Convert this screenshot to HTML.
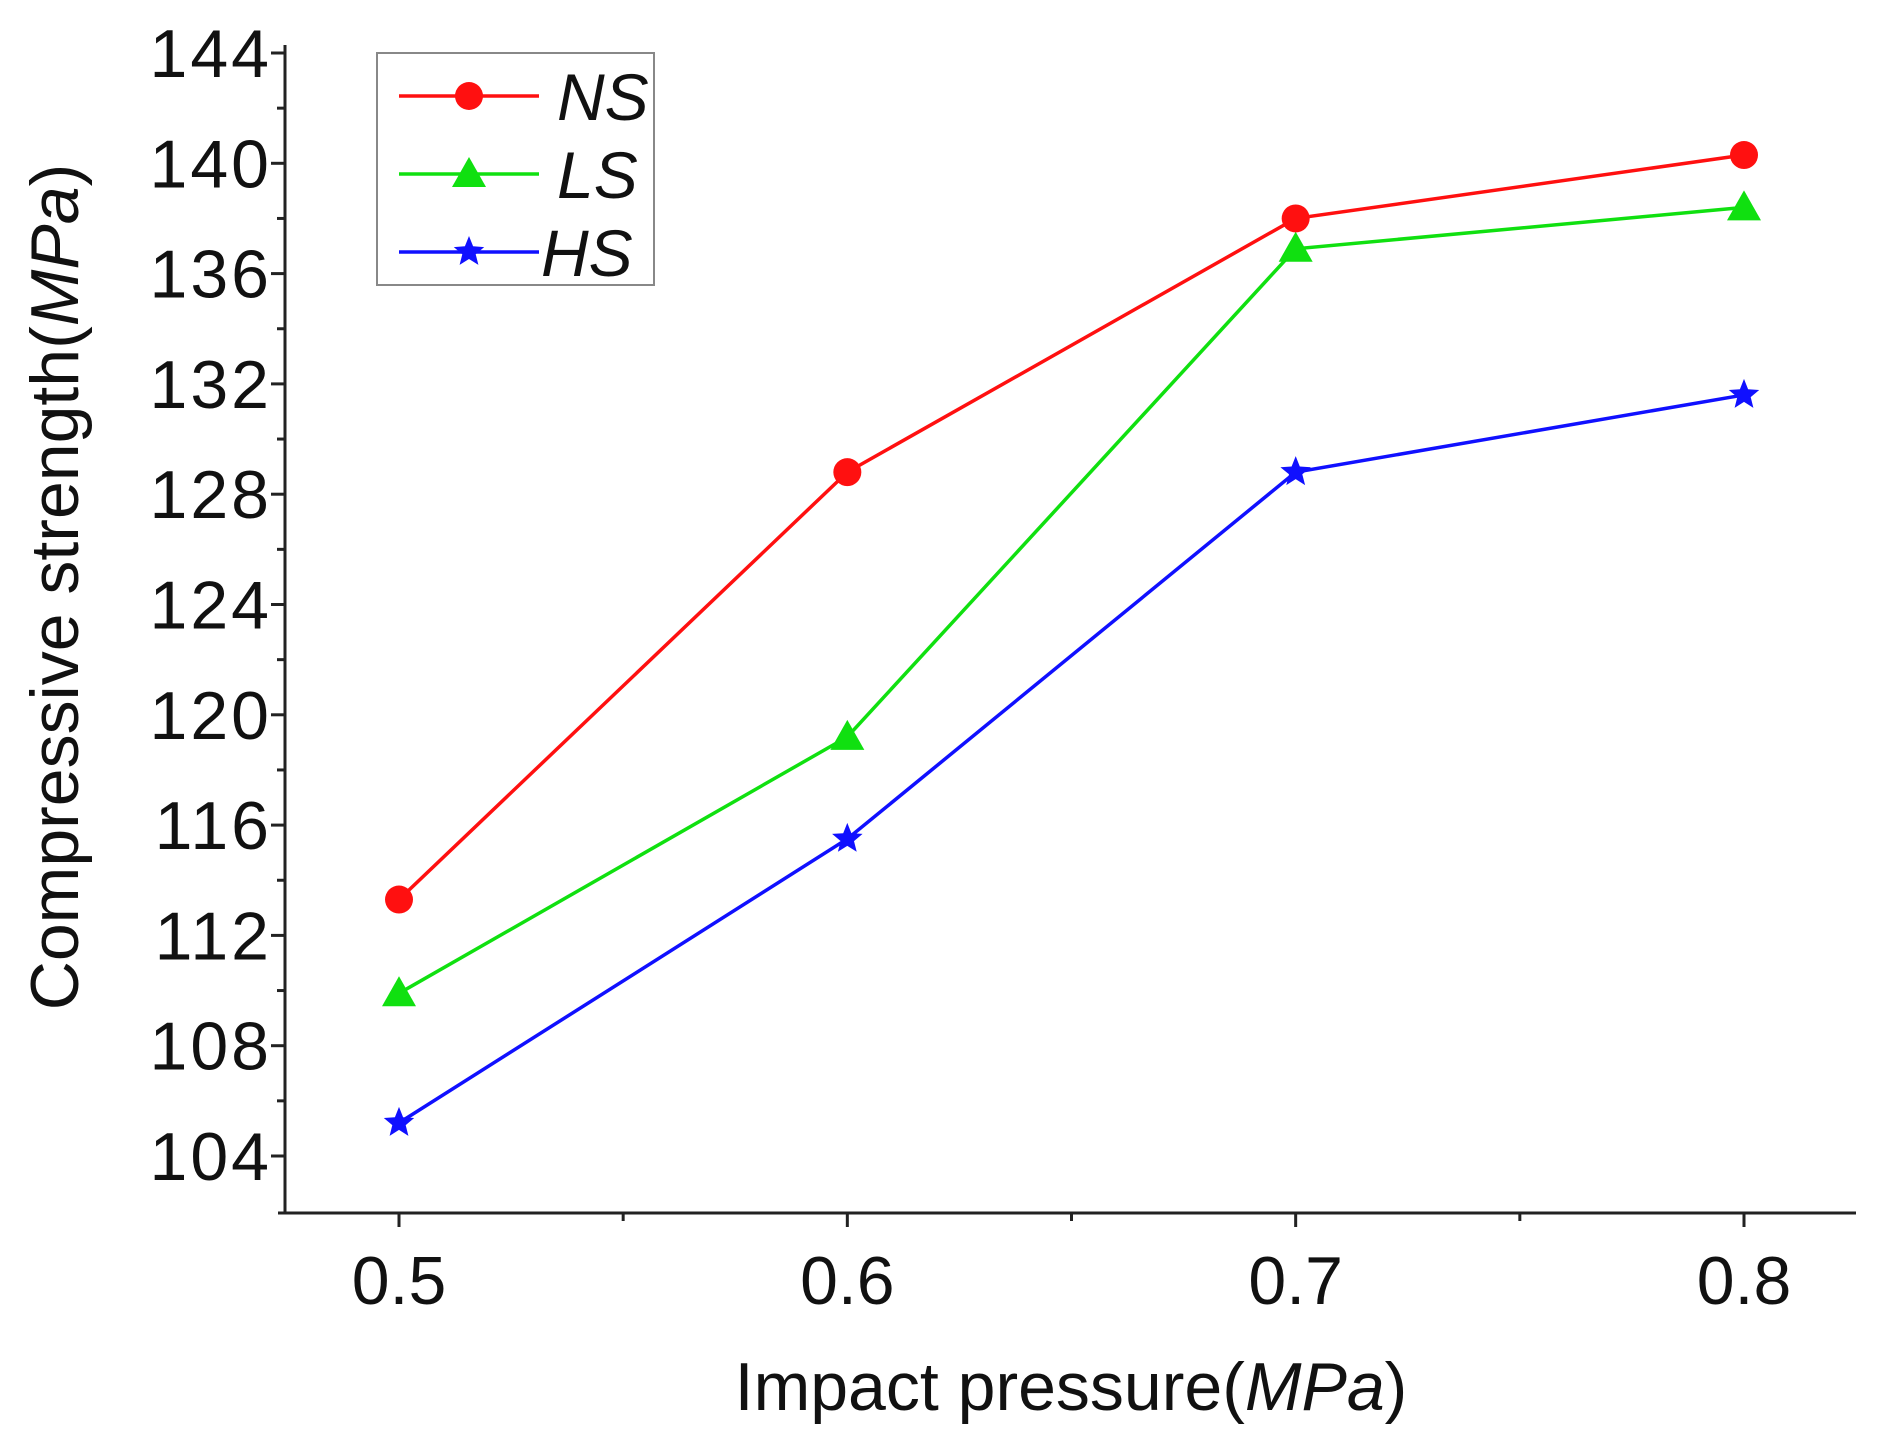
<!DOCTYPE html>
<html><head><meta charset="utf-8"><style>
html,body{margin:0;padding:0;background:#fff;}
svg{display:block;font-family:"Liberation Sans",Arial,sans-serif;}
</style></head><body>
<svg id="chart" width="1877" height="1445" viewBox="0 0 1877 1445" xmlns="http://www.w3.org/2000/svg">
<g id="axes"></g>
<g id="series"></g>
<text transform="translate(78,587) rotate(-90)" text-anchor="middle" font-size="68" fill="#111">Compressive strength(<tspan font-style="italic">MPa</tspan>)</text>
<text x="1071" y="1410" text-anchor="middle" font-size="68" fill="#111">Impact pressure(<tspan font-style="italic">MPa</tspan>)</text>
<g>
<rect x="377" y="53" width="277" height="232" fill="#fff" stroke="#888" stroke-width="2"/>
<g id="legend-items"></g>
</g>
</svg>
<script>
const categories=[0.5,0.6,0.7,0.8];
const seriesNames=["NS","LS","HS"];
const nsValues=[113.3,128.8,138.0,140.3];
const lsValues=[109.9,119.2,136.9,138.4];
const hsValues=[105.2,115.5,128.8,131.6];
const yTicks=[104,108,112,116,120,124,128,132,136,140,144];
const xTickLabels=["0.5","0.6","0.7","0.8"];
const NS="http://www.w3.org/2000/svg";
function X(v){return 399+(v-0.5)/0.3*(1744-399);}
function Y(v){return 1156-(v-104)/40*(1156-53);}
function mk(tag,attrs,parent){const e=document.createElementNS(NS,tag);for(const k in attrs)e.setAttribute(k,attrs[k]);parent.appendChild(e);return e;}
const axes=document.getElementById('axes');
let yl=mk('line',{x1:285,y1:45,x2:285,y2:1214,stroke:'#222','stroke-width':3},axes);


let xl=mk('line',{x1:278,y1:1213,x2:1856,y2:1213,stroke:'#222','stroke-width':3},axes);


for(let v=104;v<=144;v+=2){const major=(v%4===0);
 let t=mk('line',{x1:285-(major?14:8),y1:Y(v),x2:285,y2:Y(v),stroke:'#222','stroke-width':3},axes);
 
 }
yTicks.forEach(v=>{let t=mk('text',{x:272,y:Y(v)+24,'text-anchor':'end','font-size':68,'letter-spacing':3,fill:'#111'},axes);t.textContent=v;
 
 });
for(let i=0;i<7;i++){const v=0.5+i*0.05;const major=(i%2===0);
 let t=mk('line',{x1:X(v),y1:1213,x2:X(v),y2:1213+(major?14:8),stroke:'#222','stroke-width':3},axes);
 
 }
categories.forEach((c,i)=>{let t=mk('text',{x:X(c),y:1304,'text-anchor':'middle','font-size':68,fill:'#111'},axes);t.textContent=xTickLabels[i];
 
 });
const colors=["#ff1010","#10e010","#1010ff"];
const allVals=[nsValues,lsValues,hsValues];
function marker(type,x,y,color,parent){
 if(type===0)return mk('circle',{cx:x,cy:y,r:14,fill:color},parent);
 if(type===1)return mk('polygon',{points:`${x},${y-17} ${x+17},${y+13} ${x-17},${y+13}`,fill:color},parent);
 let p=[];for(let k=0;k<10;k++){const r=k%2?7:16;const a=-Math.PI/2+k*Math.PI/5;p.push((x+r*Math.cos(a)).toFixed(1)+','+(y+r*Math.sin(a)).toFixed(1));}
 return mk('polygon',{points:p.join(' '),fill:color},parent);}
const sg=document.getElementById('series');
allVals.forEach((vals,s)=>{
 let pl=mk('polyline',{points:vals.map((v,i)=>X(categories[i])+','+Y(v)).join(' '),fill:'none',stroke:colors[s],'stroke-width':3.5},sg);
 
 
 vals.forEach((v,i)=>{let m=marker(s,X(categories[i]),Y(v),colors[s],sg);
  
  });
});
const lg=document.getElementById('legend-items');
seriesNames.forEach((n,s)=>{const y=96+s*78;
 let l=mk('line',{x1:399,y1:y,x2:539,y2:y,stroke:colors[s],'stroke-width':3.5},lg);
 
 
 let m=marker(s,469,y,colors[s],lg);
 
 
 let t=mk('text',{x:s===2?541:557,y:y+24,'font-size':66,'font-style':'italic',fill:'#111'},lg);t.textContent=n;
 
 
});
</script>
</body></html>
